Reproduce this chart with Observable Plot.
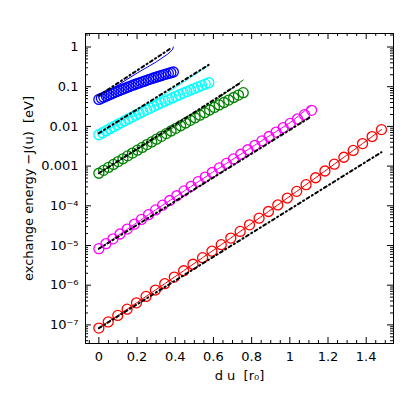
<!DOCTYPE html>
<html><head><meta charset="utf-8">
<script src="https://cdn.jsdelivr.net/npm/d3@7"></script>
<script src="https://cdn.jsdelivr.net/npm/@observablehq/plot@0.6"></script>
<style>body{margin:0;background:#fff}#chart{width:415px;height:415px}</style>
</head><body><div id="chart"></div>
<script>
// ---- data ----
const seriesNames = ["blue", "cyan", "green", "magenta", "red"];
const seriesColors = ["#0000ff", "#00ffff", "#008000", "#ff00ff", "#ff0000"];

// circles: d*u [r0] and -J(u) [eV]
const blueX = [0,0.013,0.026,0.039,0.052,0.065,0.078,0.091,0.104,0.117,0.130,0.143,0.156,0.169,0.182,0.195,0.208,0.221,0.234,0.247,0.260,0.273,0.286,0.299,0.312,0.325,0.338,0.351,0.364,0.377,0.390];
const blueJ = [4.79e-2,5.11e-2,5.45e-2,5.81e-2,6.18e-2,6.58e-2,7.00e-2,7.43e-2,7.89e-2,8.36e-2,8.85e-2,9.38e-2,9.91e-2,0.105,0.111,0.117,0.123,0.129,0.136,0.143,0.151,0.158,0.166,0.173,0.182,0.190,0.199,0.207,0.216,0.225,0.235];

const cyanX = [0,0.019,0.038,0.058,0.077,0.096,0.115,0.134,0.154,0.173,0.192,0.211,0.230,0.250,0.269,0.288,0.307,0.326,0.346,0.365,0.384,0.403,0.422,0.442,0.461,0.480,0.499,0.518,0.538,0.557,0.576];
const cyanJ = [6.17e-3,6.93e-3,7.80e-3,8.79e-3,9.84e-3,1.10e-2,1.23e-2,1.37e-2,1.54e-2,1.72e-2,1.91e-2,2.12e-2,2.36e-2,2.62e-2,2.90e-2,3.21e-2,3.54e-2,3.91e-2,4.32e-2,4.75e-2,5.22e-2,5.73e-2,6.28e-2,6.90e-2,7.54e-2,8.22e-2,8.97e-2,9.77e-2,0.107,0.116,0.126];

const greenX = [0,0.025,0.050,0.076,0.101,0.126,0.151,0.176,0.202,0.227,0.252,0.277,0.302,0.328,0.353,0.378,0.403,0.428,0.454,0.479,0.504,0.529,0.554,0.580,0.605,0.630,0.655,0.680,0.706,0.731,0.756];
const greenJ = [6.61e-4,7.83e-4,9.27e-4,1.10e-3,1.30e-3,1.53e-3,1.81e-3,2.13e-3,2.52e-3,2.96e-3,3.48e-3,4.07e-3,4.77e-3,5.62e-3,6.58e-3,7.67e-3,8.95e-3,1.04e-2,1.22e-2,1.42e-2,1.65e-2,1.92e-2,2.22e-2,2.59e-2,3.00e-2,3.47e-2,4.00e-2,4.61e-2,5.35e-2,6.15e-2,7.08e-2];

const magentaX = [0,0.037,0.074,0.111,0.149,0.186,0.223,0.260,0.297,0.334,0.371,0.408,0.446,0.483,0.520,0.557,0.594,0.631,0.668,0.705,0.743,0.780,0.817,0.854,0.891,0.928,0.965,1.002,1.040,1.077,1.114];
const magentaJ = [8.32e-6,1.11e-5,1.47e-5,1.95e-5,2.60e-5,3.44e-5,4.54e-5,5.98e-5,7.89e-5,1.04e-4,1.36e-4,1.79e-4,2.37e-4,3.10e-4,4.06e-4,5.30e-4,6.90e-4,9.00e-4,1.17e-3,1.52e-3,1.99e-3,2.58e-3,3.33e-3,4.32e-3,5.57e-3,7.19e-3,9.27e-3,1.19e-2,1.54e-2,1.98e-2,2.54e-2];

const redX = [0,0.049,0.099,0.148,0.197,0.247,0.296,0.345,0.395,0.444,0.493,0.543,0.592,0.641,0.691,0.740,0.789,0.839,0.888,0.937,0.987,1.036,1.085,1.135,1.184,1.233,1.283,1.332,1.381,1.431,1.480];
const redJ = [8.32e-8,1.19e-7,1.73e-7,2.49e-7,3.59e-7,5.21e-7,7.55e-7,1.09e-6,1.60e-6,2.31e-6,3.37e-6,4.93e-6,7.18e-6,1.05e-5,1.54e-5,2.26e-5,3.31e-5,4.89e-5,7.19e-5,1.05e-4,1.57e-4,2.31e-4,3.41e-4,5.09e-4,7.53e-4,1.12e-3,1.67e-3,2.48e-3,3.70e-3,5.56e-3,8.30e-3];

// thin coloured curves
const blueCurveX = [0, 0.1, 0.2, 0.3, 0.36, 0.385, 0.39];
const blueCurveJ = [5.5e-2, 0.11, 0.22, 0.42, 0.66, 0.85, 1.0];
const cyanCurveX = [0, 0.2, 0.4, 0.575];
const cyanCurveJ = [6.2e-3, 2.4e-2, 9.5e-2, 0.342];
const greenCurveX = [0, 0.202, 0.403, 0.605, 0.756];
const greenCurveJ = [6.6e-4, 2.6e-3, 1.02e-2, 4.3e-2, 0.148];
const magentaCurveX = [0, 0.297, 0.594, 0.854, 1.002, 1.11];
const magentaCurveJ = [8.3e-6, 7.9e-5, 6.9e-4, 4.4e-3, 1.25e-2, 3.3e-2];
const redCurveX = redX;
const redCurveJ = redJ;

// black dash-dot approximations (straight on the log axis)
const blueApproxX = [0, 0.373];   const blueApproxJ = [6.0e-2, 0.90];
const cyanApproxX = [0, 0.575];   const cyanApproxJ = [6.76e-3, 0.355];
const greenApproxX = [0, 0.746];  const greenApproxJ = [6.6e-4, 0.129];
const magentaApproxX = [0, 1.113];const magentaApproxJ = [8.3e-6, 1.78e-2];
const redApproxX = [0, 1.48];     const redApproxJ = [8.3e-8, 2.24e-3];

// axes
const xTicks = [0, 0.2, 0.4, 0.6, 0.8, 1, 1.2, 1.4];
const xTickLabels = ["0", "0.2", "0.4", "0.6", "0.8", "1", "1.2", "1.4"];
const yTicks = [1e-7, 1e-6, 1e-5, 1e-4, 1e-3, 1e-2, 1e-1, 1];
const yTickLabels = ["10\u207b\u2077", "10\u207b\u2076", "10\u207b\u2075", "10\u207b\u2074", "0.001", "0.01", "0.1", "1"];
const xLabel = "d u\u00a0\u00a0[r\u2080]";
const yLabel = "exchange energy \u2212J(u)\u00a0\u00a0[eV]";

// ---- build tables ----
const circX = [blueX, cyanX, greenX, magentaX, redX];
const circJ = [blueJ, cyanJ, greenJ, magentaJ, redJ];
const curX = [blueCurveX, cyanCurveX, greenCurveX, magentaCurveX, redCurveX];
const curJ = [blueCurveJ, cyanCurveJ, greenCurveJ, magentaCurveJ, redCurveJ];
const apX = [blueApproxX, cyanApproxX, greenApproxX, magentaApproxX, redApproxX];
const apJ = [blueApproxJ, cyanApproxJ, greenApproxJ, magentaApproxJ, redApproxJ];
const toRows = (xs, js) => seriesNames.flatMap((s, k) => xs[k].map((x, i) => ({s, x, J: js[k][i]})));
const circles = toRows(circX, circJ);
const curves = toRows(curX, curJ);
const approx = toRows(apX, apJ);

const yDomain = [3.4e-8, 2.19];
const xDomain = [-0.07, 1.543];
const xMinor = d3.range(-0.05, 1.5001, 0.05).filter(v => xTicks.every(t => Math.abs(t - v) > 1e-6));
const yMinor = d3.scaleLog().domain(yDomain).ticks().filter(v => !yTicks.some(t => Math.abs(t - v) / t < 1e-6));

const W = 415, H = 415, mL = 85, mR = 22, mT = 33, mB = 72;
const fw = W - mL - mR, fh = H - mT - mB;

const chart = Plot.plot({
  width: W, height: H,
  marginLeft: mL, marginRight: mR, marginTop: mT, marginBottom: mB,
  style: {fontFamily: "DejaVu Sans, sans-serif", fontSize: "13px", background: "white", color: "black"},
  x: {domain: xDomain, label: null},
  y: {type: "log", domain: yDomain, label: null},
  color: {domain: seriesNames, range: seriesColors},
  marks: [
    Plot.dot(circles, {x: "x", y: "J", stroke: "s", r: 5, strokeWidth: 1.3, fill: "none"}),
    Plot.line(curves, {x: "x", y: "J", z: "s", stroke: "s", strokeWidth: 1}),
    Plot.line(approx, {x: "x", y: "J", z: "s", stroke: "black", strokeWidth: 2, strokeDasharray: "3,3,1.2,3"}),
    // inward ticks on all four sides
    Plot.tickX(xTicks, {x: d => d, insetTop: fh - 6, stroke: "black"}),
    Plot.tickX(xMinor, {x: d => d, insetTop: fh - 3, stroke: "black"}),
    Plot.tickX(xTicks, {x: d => d, insetBottom: fh - 6, stroke: "black"}),
    Plot.tickX(xMinor, {x: d => d, insetBottom: fh - 3, stroke: "black"}),
    Plot.tickY(yTicks, {y: d => d, insetRight: fw - 6, stroke: "black"}),
    Plot.tickY(yMinor, {y: d => d, insetRight: fw - 3, stroke: "black"}),
    Plot.tickY(yTicks, {y: d => d, insetLeft: fw - 6, stroke: "black"}),
    Plot.tickY(yMinor, {y: d => d, insetLeft: fw - 3, stroke: "black"}),
    Plot.frame({stroke: "black", strokeWidth: 1}),
    Plot.axisX(xTicks, {anchor: "bottom", tickSize: 0, tickPadding: 8, fontSize: 13, label: null,
      tickFormat: d => xTickLabels[xTicks.indexOf(d)]}),
    Plot.axisY(yTicks, {anchor: "left", tickSize: 0, tickPadding: 7, fontSize: 13, label: null,
      tickFormat: d => yTickLabels[yTicks.indexOf(d)]}),
    Plot.text([xLabel], {text: d => d, frameAnchor: "bottom", dy: 32, fontSize: 13, lineAnchor: "middle"}),
    Plot.text([yLabel], {text: d => d, frameAnchor: "left", dx: -57, rotate: -90, fontSize: 13, lineAnchor: "middle", textAnchor: "middle"})
  ]
});
document.getElementById("chart").appendChild(chart);
</script>
</body></html>
